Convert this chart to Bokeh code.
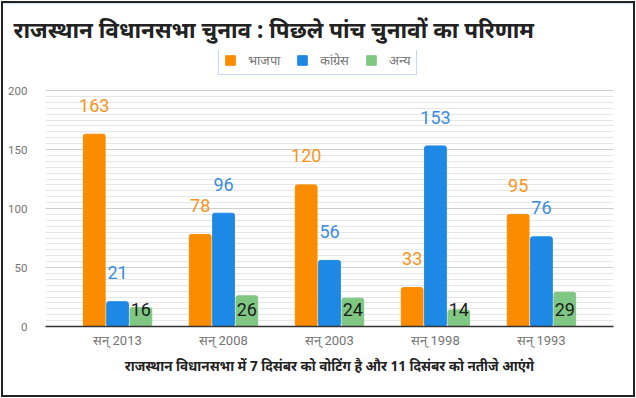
from bokeh.plotting import figure
from bokeh.models import ColumnDataSource, FactorRange, FixedTicker, Legend, LegendItem, Title, Range1d
from bokeh.transform import dodge
from bokeh.core.properties import value
from bokeh.embed import file_html
from bokeh.resources import INLINE

# ---- data ----
years = ["सन् 2013", "सन् 2008", "सन् 2003", "सन् 1998", "सन् 1993"]
bjp = [163, 78, 120, 33, 95]
congress = [21, 96, 56, 153, 76]
others = [16, 26, 24, 14, 29]
series_names = ["भाजपा", "कांग्रेस", "अन्य"]
y_ticks = [0, 50, 100, 150, 200]
y_minor = list(range(0, 205, 5))

title_text = "राजस्थान विधानसभा चुनाव : पिछले पांच चुनावों का परिणाम"
note_text = "राजस्थान विधानसभा में 7 दिसंबर को वोटिंग है और 11 दिसंबर को नतीजे आएंगे"

colors = ["#FB8C00", "#1E88E5", "#81C784"]
label_colors = ["#F7941D", "#3A8DDE", "#1b1b1b"]

src = ColumnDataSource(dict(
    year=years, bjp=bjp, congress=congress, others=others,
    bjp_txt=[str(v) for v in bjp],
    congress_txt=[str(v) for v in congress],
    others_txt=[str(v) for v in others],
    bjp_y=[v + 24.5 for v in bjp],
    congress_y=[v + 24.5 for v in congress],
))

# y range extends above the top tick so that the legend sits inside the frame
p = figure(x_range=FactorRange(factors=years, range_padding=0.072),
           y_range=Range1d(0, 233.9), width=636, height=398,
           output_backend="svg", toolbar_location=None,
           min_border_left=45, min_border_right=23,
           min_border_top=50, min_border_bottom=72)
p.styles = {
    "background-color": "white",
    "box-shadow": "inset 0 0 0 1px white, inset 0 0 0 3px #222222, inset 0 4px 0 0 #cfe2f6",
}
p.outline_line_color = None
p.background_fill_color = "white"
p.border_fill_color = "white"
p.border_fill_alpha = 0

offs = [-0.22, 0.0, 0.22]
bw = 0.205
r1 = p.vbar(x=dodge("year", offs[0], range=p.x_range), top="bjp", width=bw,
            source=src, color=colors[0], border_radius=2)
r2 = p.vbar(x=dodge("year", offs[1], range=p.x_range), top="congress", width=bw,
            source=src, color=colors[1], border_radius=2)
r3 = p.vbar(x=dodge("year", offs[2], range=p.x_range), top="others", width=bw,
            source=src, color=colors[2], border_radius=2)

fs = value("18px")
p.text(x=dodge("year", offs[0], range=p.x_range), y="bjp_y", text="bjp_txt", source=src,
       text_font=value("Roboto"), text_font_size=fs, text_color=label_colors[0],
       text_align="center", text_baseline="middle")
p.text(x=dodge("year", offs[1], range=p.x_range), y="congress_y", text="congress_txt", source=src,
       text_font=value("Roboto"), text_font_size=fs, text_color=label_colors[1],
       text_align="center", text_baseline="middle")
p.text(x=dodge("year", offs[2], range=p.x_range), y=14.5, text="others_txt", source=src,
       text_font=value("Roboto"), text_font_size=fs, text_color=label_colors[2],
       text_align="center", text_baseline="middle")

# axes & grid
p.yaxis.ticker = FixedTicker(ticks=y_ticks, minor_ticks=y_minor)
p.ygrid.grid_line_color = "#cfcfcf"
p.ygrid.minor_grid_line_color = "#e6e6e6"
p.xgrid.grid_line_color = None
p.yaxis.axis_line_color = None
p.yaxis.major_tick_line_color = None
p.yaxis.minor_tick_line_color = None
p.yaxis.major_label_standoff = 12
p.yaxis.major_label_text_font = "Roboto"
p.yaxis.major_label_text_font_size = "11.5px"
p.yaxis.major_label_text_color = "#757575"
p.xaxis.axis_line_color = "#333333"
p.xaxis.axis_line_width = 1.5
p.xaxis.major_tick_line_color = None
p.xaxis.minor_tick_line_color = None
p.xaxis.major_label_standoff = 0
p.xaxis.major_label_text_font = "Roboto"
p.xaxis.major_label_text_font_size = "13px"
p.xaxis.major_label_text_color = "#757575"

legend = Legend(items=[LegendItem(label=series_names[0], renderers=[r1]),
                       LegendItem(label=series_names[1], renderers=[r2]),
                       LegendItem(label=series_names[2], renderers=[r3])],
                orientation="horizontal", location=(173, 251))
legend.glyph_width = 12
legend.glyph_height = 12
legend.label_height = 13
legend.label_standoff = 12
legend.spacing = 16
legend.padding = 5
legend.margin = 0
legend.label_text_font = "Roboto"
legend.label_text_font_size = "13px"
legend.label_text_color = "#757575"
legend.border_line_color = "#8AB4F8"
legend.border_line_width = 1.5
legend.background_fill_color = "white"
legend.background_fill_alpha = 1
p.add_layout(legend, "center")

p.add_layout(Title(text=title_text, align="left", offset=-32, standoff=12,
                   text_font="Noto Sans", text_font_size="22.5px", text_font_style="bold",
                   text_color="#222222"), "above")
p.add_layout(Title(text=note_text, align="center", standoff=8,
                   text_font="Noto Sans", text_font_size="13.5px", text_font_style="bold",
                   text_color="#222222"), "below")

open("out.html", "w").write(file_html(p, INLINE))
